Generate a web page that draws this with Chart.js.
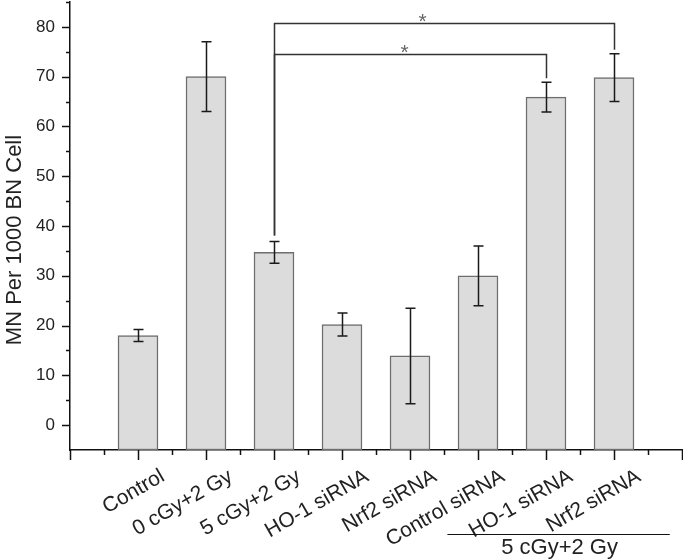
<!DOCTYPE html>
<html>
<head>
<meta charset="utf-8">
<script src="https://cdn.jsdelivr.net/npm/chart.js@4.4.1/dist/chart.umd.min.js"></script>
<style>
  html, body { margin: 0; padding: 0; background: #fff; }
  #wrap { width: 683px; height: 560px; position: relative; }
</style>
</head>
<body>
<div id="wrap"><canvas id="c" width="683" height="560"></canvas></div>
<script>
// ---- data ----
const categories = ['Control', '0 cGy+2 Gy', '5 cGy+2 Gy', 'HO-1 siRNA', 'Nrf2 siRNA', 'Control siRNA', 'HO-1 siRNA', 'Nrf2 siRNA'];
const means = [18, 70, 34.7, 20.2, 13.9, 30, 65.9, 69.8];
const errors = [1.2, 7, 2.2, 2.3, 9.6, 6, 3.0, 4.8];
const yTicks = [0, 10, 20, 30, 40, 50, 60, 70, 80];
const yTitle = 'MN Per 1000 BN Cell';
const groupLabel = '5 cGy+2 Gy';
const groupFrom = 6;   // first category index (1-based) of the group
const groupTo = 8;     // last category index (1-based) of the group
// significance brackets: from category, to category, bracket level (y units)
const sigFrom = [3, 3];
const sigTo = [7, 8];
const sigLevel = [74.5, 80.7];
const sigMark = ['*', '*'];

const FONT = "'Liberation Sans', Arial, sans-serif";
const TEXT = '#222';

const overlay = {
  id: 'overlay',
  afterDraw(chart) {
    const ctx = chart.ctx;
    const xs = chart.scales.x, ys = chart.scales.y;
    const area = chart.chartArea;
    ctx.save();
    // axis tick marks (major + minor)
    ctx.strokeStyle = '#111';
    ctx.lineWidth = 1.5;
    ctx.beginPath();
    for (let v = 0; v <= 85; v += 5) {
      const y = Math.round(ys.getPixelForValue(v)) + 0.5;
      const len = (v % 10 === 0) ? 8 : 4;
      ctx.moveTo(area.left, y); ctx.lineTo(area.left - len, y);
    }
    for (let k = 0; k <= 18; k++) {
      const v = k / 2;
      const x = Math.round(xs.getPixelForValue(v)) + 0.5;
      const len = (k % 2 === 0) ? 10 : 5;
      ctx.moveTo(x, area.bottom); ctx.lineTo(x, area.bottom + len);
    }
    ctx.stroke();

    // y axis title
    ctx.save();
    ctx.translate(21, (area.top + area.bottom) / 2 + 14);
    ctx.rotate(-Math.PI / 2);
    ctx.fillStyle = TEXT;
    ctx.font = '22px ' + FONT;
    ctx.textAlign = 'center';
    ctx.textBaseline = 'alphabetic';
    ctx.fillText(yTitle, 0, 0);
    ctx.restore();

    // error bars
    ctx.strokeStyle = '#1a1a1a';
    ctx.lineWidth = 1.5;
    ctx.beginPath();
    means.forEach((m, i) => {
      const x = Math.round(xs.getPixelForValue(i + 1)) + 0.5;
      const yt = ys.getPixelForValue(m + errors[i]);
      const yb = ys.getPixelForValue(m - errors[i]);
      ctx.moveTo(x, yt); ctx.lineTo(x, yb);
      ctx.moveTo(x - 5, yt); ctx.lineTo(x + 5, yt);
      ctx.moveTo(x - 5, yb); ctx.lineTo(x + 5, yb);
    });
    ctx.stroke();

    // significance brackets
    ctx.strokeStyle = '#333';
    ctx.lineWidth = 1.5;
    sigFrom.forEach((f, j) => {
      const t = sigTo[j];
      const x1 = Math.round(xs.getPixelForValue(f)) + 0.5;
      const x2 = Math.round(xs.getPixelForValue(t)) + 0.5;
      const yL = Math.round(ys.getPixelForValue(sigLevel[j])) + 0.5;
      const y1 = ys.getPixelForValue(means[f - 1] + errors[f - 1]) - 6;
      const y2 = ys.getPixelForValue(means[t - 1] + errors[t - 1]) - 4;
      ctx.beginPath();
      ctx.moveTo(x1, y1); ctx.lineTo(x1, yL); ctx.lineTo(x2, yL); ctx.lineTo(x2, y2);
      ctx.stroke();
      ctx.fillStyle = '#666';
      ctx.font = '21px ' + FONT;
      ctx.textAlign = 'center';
      ctx.textBaseline = 'alphabetic';
      const xm = (x1 + x2) / 2 - (j === 0 ? 6 : 22);
      ctx.fillText(sigMark[j], xm, yL + 4);
    });

    // group underline and label
    const gx1 = xs.getPixelForValue(groupFrom - 0.45);
    const gx2 = xs.getPixelForValue(groupTo + 0.82);
    ctx.strokeStyle = '#111';
    ctx.lineWidth = 1.2;
    ctx.beginPath();
    ctx.moveTo(gx1, 534.5); ctx.lineTo(gx2, 534.5);
    ctx.stroke();
    ctx.fillStyle = TEXT;
    ctx.font = '22px ' + FONT;
    ctx.textAlign = 'center';
    ctx.textBaseline = 'middle';
    ctx.fillText(groupLabel, xs.getPixelForValue(groupFrom + 1.2), 548);
    ctx.restore();
  }
};

new Chart(document.getElementById('c'), {
  type: 'bar',
  data: {
    datasets: [{
      data: categories.map((c, i) => ({ x: i + 1, y: means[i] })),
      base: -5,
      barThickness: 40,
      backgroundColor: '#dcdcdc',
      borderColor: '#6e6e6e',
      borderWidth: 1.5,
      borderSkipped: false
    }]
  },
  options: {
    responsive: false,
    animation: false,
    events: [],
    layout: { padding: { top: 2, right: 1, left: 0, bottom: 0 } },
    plugins: { legend: { display: false }, tooltip: { enabled: false } },
    scales: {
      x: {
        type: 'linear',
        min: 0, max: 9,
        offset: false,
        grid: { display: false, drawTicks: false },
        border: { display: true, color: '#111', width: 1.5 },
        afterBuildTicks(scale) {
          scale.ticks = categories.map((c, i) => ({ value: i + 1 }));
        },
        afterFit(scale) {
          scale.height = 110;
          scale.paddingLeft = 0; scale.paddingRight = 0;
        },
        ticks: {
          autoSkip: false,
          maxRotation: 30, minRotation: 30,
          padding: 14,
          labelOffset: 25,
          color: TEXT,
          font: { family: FONT, size: 21 },
          callback: (v) => categories[Math.round(v) - 1] || ''
        }
      },
      y: {
        min: -5, max: 85,
        grid: { display: false, drawTicks: false },
        border: { display: true, color: '#111', width: 1.5 },
        afterBuildTicks(scale) {
          scale.ticks = yTicks.map(v => ({ value: v }));
        },
        afterFit(scale) {
          scale.width = 70;
          scale.paddingTop = 0; scale.paddingBottom = 0;
        },
        ticks: {
          padding: 15,
          color: TEXT,
          font: { family: FONT, size: 17 }
        }
      }
    }
  },
  plugins: [overlay]
});
</script>
</body>
</html>
